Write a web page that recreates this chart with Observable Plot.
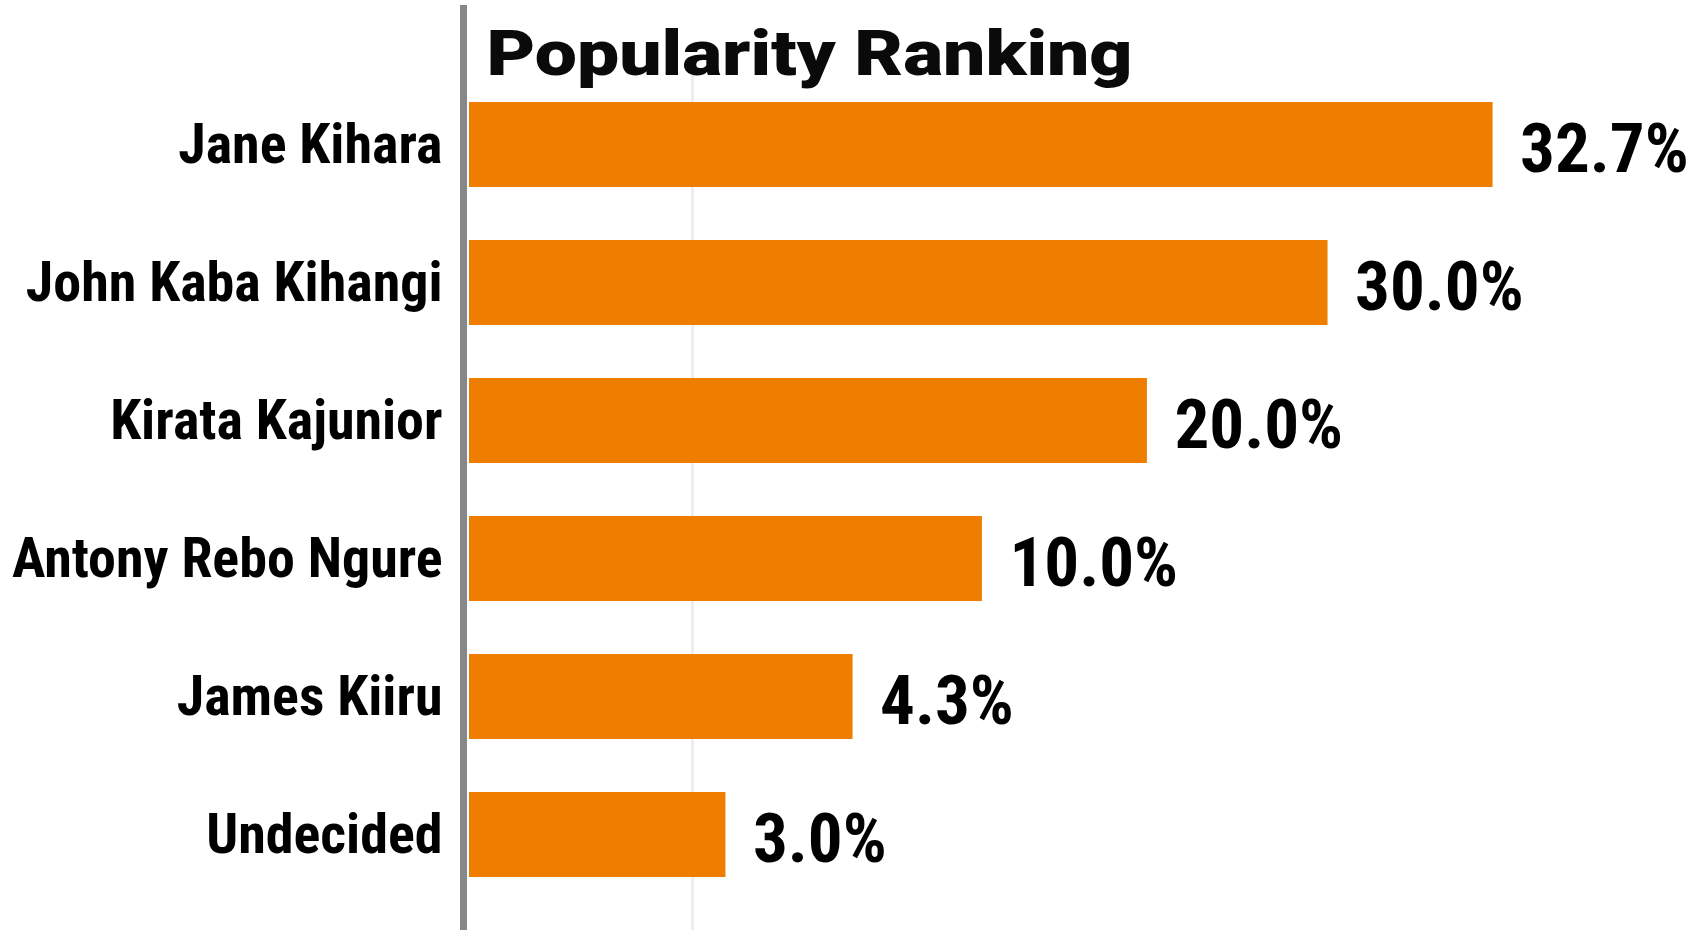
<!DOCTYPE html>
<html>
<head>
<meta charset="utf-8">
<script src="https://cdn.jsdelivr.net/npm/d3@7"></script>
<script src="https://cdn.jsdelivr.net/npm/@observablehq/plot@0.6"></script>
<style>
  html, body { margin: 0; padding: 0; background: #ffffff; }
  #chart svg { display: block; }
</style>
</head>
<body>
<div id="chart"></div>
<script>
// ---- data ----
const title = "Popularity Ranking";
const names = ["Jane Kihara", "John Kaba Kihangi", "Kirata Kajunior", "Antony Rebo Ngure", "James Kiiru", "Undecided"];
const shares = [32.7, 30.0, 20.0, 10.0, 4.3, 3.0];           // printed labels (%)
const barLengths = [45.9, 38.5, 30.4, 23.0, 17.2, 11.5];    // drawn bar lengths (chart units; single gridline = 10)
const gridTicks = [10];

const data = names.map((name, i) => ({name, share: shares[i], len: barLengths[i]}));

const narrow = "'Roboto Condensed', 'Arial Narrow', Roboto, sans-serif";
const heavy = "Roboto, 'Liberation Sans', Arial, sans-serif";

const chart = Plot.plot({
  width: 1691,
  height: 930,
  marginLeft: 469,
  marginRight: 107,
  marginTop: 5,
  marginBottom: 0,
  style: {background: "#ffffff", color: "#000000"},
  x: {domain: [0, 50], axis: null},
  y: {domain: names, range: [72.3, 905.7], paddingInner: 0.387, paddingOuter: 0.2, axis: null},
  marks: [
    Plot.ruleX(gridTicks, {stroke: "#ebebeb", strokeWidth: 2.5, insetTop: 70}),
    Plot.ruleX([0], {stroke: "#87878b", strokeWidth: 7, dx: -6}),
    Plot.barX(data, {x: "len", y: "name", fill: "#ee7d00"}),
    Plot.text(data, {
      x: "len", y: "name",
      text: d => d.share.toFixed(1) + "%",
      textAnchor: "start", dx: 27, dy: 5,
      fontSize: 69, fontWeight: "bold", fontFamily: narrow, fill: "#000000"
    }),
    Plot.axisY({
      tickSize: 0, tickPadding: 27, label: null,
      fontSize: 56, fontWeight: "bold", fontFamily: narrow, fill: "#000000"
    }),
    Plot.text([title], {
      frameAnchor: "top-left", lineAnchor: "top", textAnchor: "start",
      dx: 17, dy: 24.5,
      fontSize: 63, fontWeight: 900, fontFamily: heavy, fill: "#0a0a0a",
      className: "chart-title"
    })
  ]
});

document.getElementById("chart").appendChild(chart);

// stretch the title to the width it has in the reference
d3.select(chart).selectAll(".chart-title text")
  .attr("textLength", 646)
  .attr("lengthAdjust", "spacingAndGlyphs");
</script>
</body>
</html>
